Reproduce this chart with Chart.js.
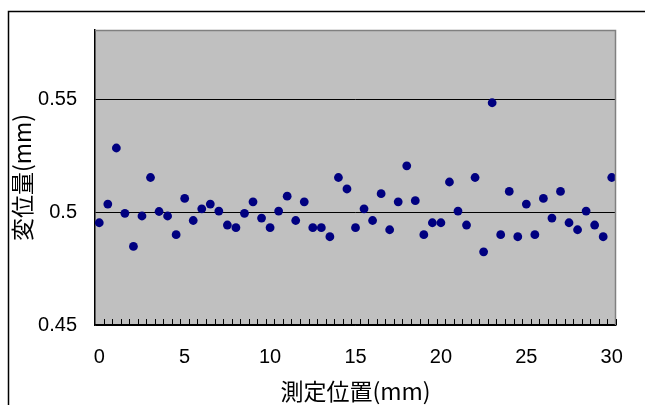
<!DOCTYPE html>
<html>
<head>
<meta charset="utf-8">
<script src="https://cdn.jsdelivr.net/npm/chart.js@4/dist/chart.umd.min.js"></script>
<style>
  html, body { margin: 0; padding: 0; background: #fff; }
  #wrap { width: 645px; height: 405px; position: relative; }
</style>
</head>
<body>
<div id="wrap"><canvas id="scatterChart" width="645" height="405"></canvas></div>
<script>
// data
var positions = [0, 0.5, 1, 1.5, 2, 2.5, 3, 3.5, 4, 4.5, 5, 5.5, 6, 6.5, 7, 7.5, 8, 8.5, 9, 9.5,
                 10, 10.5, 11, 11.5, 12, 12.5, 13, 13.5, 14, 14.5, 15, 15.5, 16, 16.5, 17, 17.5, 18, 18.5, 19, 19.5,
                 20, 20.5, 21, 21.5, 22, 22.5, 23, 23.5, 24, 24.5, 25, 25.5, 26, 26.5, 27, 27.5, 28, 28.5, 29, 29.5, 30];
var displacement = [0.4954, 0.5037, 0.5286, 0.4996, 0.4849, 0.4984, 0.5155, 0.5004, 0.4984, 0.4901,
                    0.5062, 0.4964, 0.5016, 0.5037, 0.5006, 0.4944, 0.4932, 0.4996, 0.5047, 0.4975,
                    0.4932, 0.5006, 0.5072, 0.4964, 0.5047, 0.4932, 0.4932, 0.4892, 0.5155, 0.5104,
                    0.4932, 0.5016, 0.4964, 0.5083, 0.4923, 0.5047, 0.5207, 0.5052, 0.4901, 0.4954,
                    0.4954, 0.5135, 0.5006, 0.4944, 0.5155, 0.4825, 0.5487, 0.4901, 0.5093, 0.4892,
                    0.5037, 0.4901, 0.5062, 0.4975, 0.5093, 0.4954, 0.4923, 0.5006, 0.4944, 0.4892, 0.5155];
var xTicks = [0, 5, 10, 15, 20, 25, 30];
var yTicks = [0.45, 0.5, 0.55];

var points = positions.map(function (x, i) { return { x: x, y: displacement[i] }; });

// gray plot area, outer frame, inner tick marks
var excelLook = {
    id: 'excelLook',
    beforeDraw: function (chart) {
        var ctx = chart.ctx, a = chart.chartArea;
        ctx.save();
        ctx.fillStyle = '#fff';
        ctx.fillRect(0, 0, chart.width, chart.height);
        ctx.strokeStyle = '#000';
        ctx.lineWidth = 1.5;
        ctx.beginPath();
        ctx.moveTo(8.5, chart.height + 2);
        ctx.lineTo(8.5, 11.5);
        ctx.lineTo(chart.width + 2, 11.5);
        ctx.stroke();
        ctx.fillStyle = '#c0c0c0';
        ctx.fillRect(a.left, a.top, a.right - a.left, a.bottom - a.top);
        ctx.restore();
    },
    afterDraw: function (chart) {
        var ctx = chart.ctx, a = chart.chartArea, xs = chart.scales.x;
        ctx.save();
        ctx.strokeStyle = '#808080';
        ctx.lineWidth = 1.5;
        ctx.beginPath();
        ctx.moveTo(a.left, a.top + 0.5);
        ctx.lineTo(a.right - 0.5, a.top + 0.5);
        ctx.lineTo(a.right - 0.5, a.bottom);
        ctx.stroke();
        ctx.strokeStyle = '#000';
        ctx.lineWidth = 1;
        ctx.beginPath();
        for (var k = 1; k <= 61; k++) {
            var px = Math.round(xs.getPixelForValue(-0.25 + 0.5 * k)) + 0.5;
            ctx.moveTo(px, a.bottom);
            ctx.lineTo(px, a.bottom - 6);
        }
        ctx.stroke();
        ctx.restore();
    }
};

var tickFont = { family: "'Liberation Sans', Arial, sans-serif", size: 20 };
var titleFont = { family: "'Noto Sans CJK JP', sans-serif", size: 23 };

new Chart(document.getElementById('scatterChart'), {
    type: 'scatter',
    data: {
        datasets: [{
            data: points,
            backgroundColor: '#000080',
            borderWidth: 0,
            pointRadius: 4.4,
            pointHoverRadius: 4.4
        }]
    },
    options: {
        responsive: false,
        animation: false,
        layout: { padding: { left: 0, top: 29, right: 29, bottom: 0 } },
        plugins: { legend: { display: false }, tooltip: { enabled: false } },
        scales: {
            x: {
                type: 'linear',
                min: -0.25,
                max: 30.25,
                afterBuildTicks: function (s) { s.ticks = xTicks.map(function (v) { return { value: v }; }); },
                afterFit: function (s) { s.height = 80; },
                grid: { display: false, drawTicks: false },
                border: { display: true, color: '#000', width: 1.5 },
                ticks: { color: '#000', font: tickFont, padding: 20, maxRotation: 0 },
                title: { display: true, text: '測定位置(mm)', color: '#000', font: titleFont, padding: { top: 0, bottom: 0 } }
            },
            y: {
                min: 0.45,
                max: 0.581,
                afterBuildTicks: function (s) { s.ticks = yTicks.map(function (v) { return { value: v }; }); },
                afterFit: function (s) { s.width = 95; },
                grid: { color: '#000', lineWidth: 1, drawTicks: false },
                border: { display: true, color: '#000', width: 1.5 },
                ticks: {
                    color: '#000', font: tickFont, padding: 18,
                    callback: function (v) { return String(Math.round(v * 100) / 100); }
                },
                title: { display: true, text: '変位量(mm)', color: '#000', font: titleFont, padding: { top: 8, bottom: 0 } }
            }
        }
    },
    plugins: [excelLook]
});
</script>
</body>
</html>
